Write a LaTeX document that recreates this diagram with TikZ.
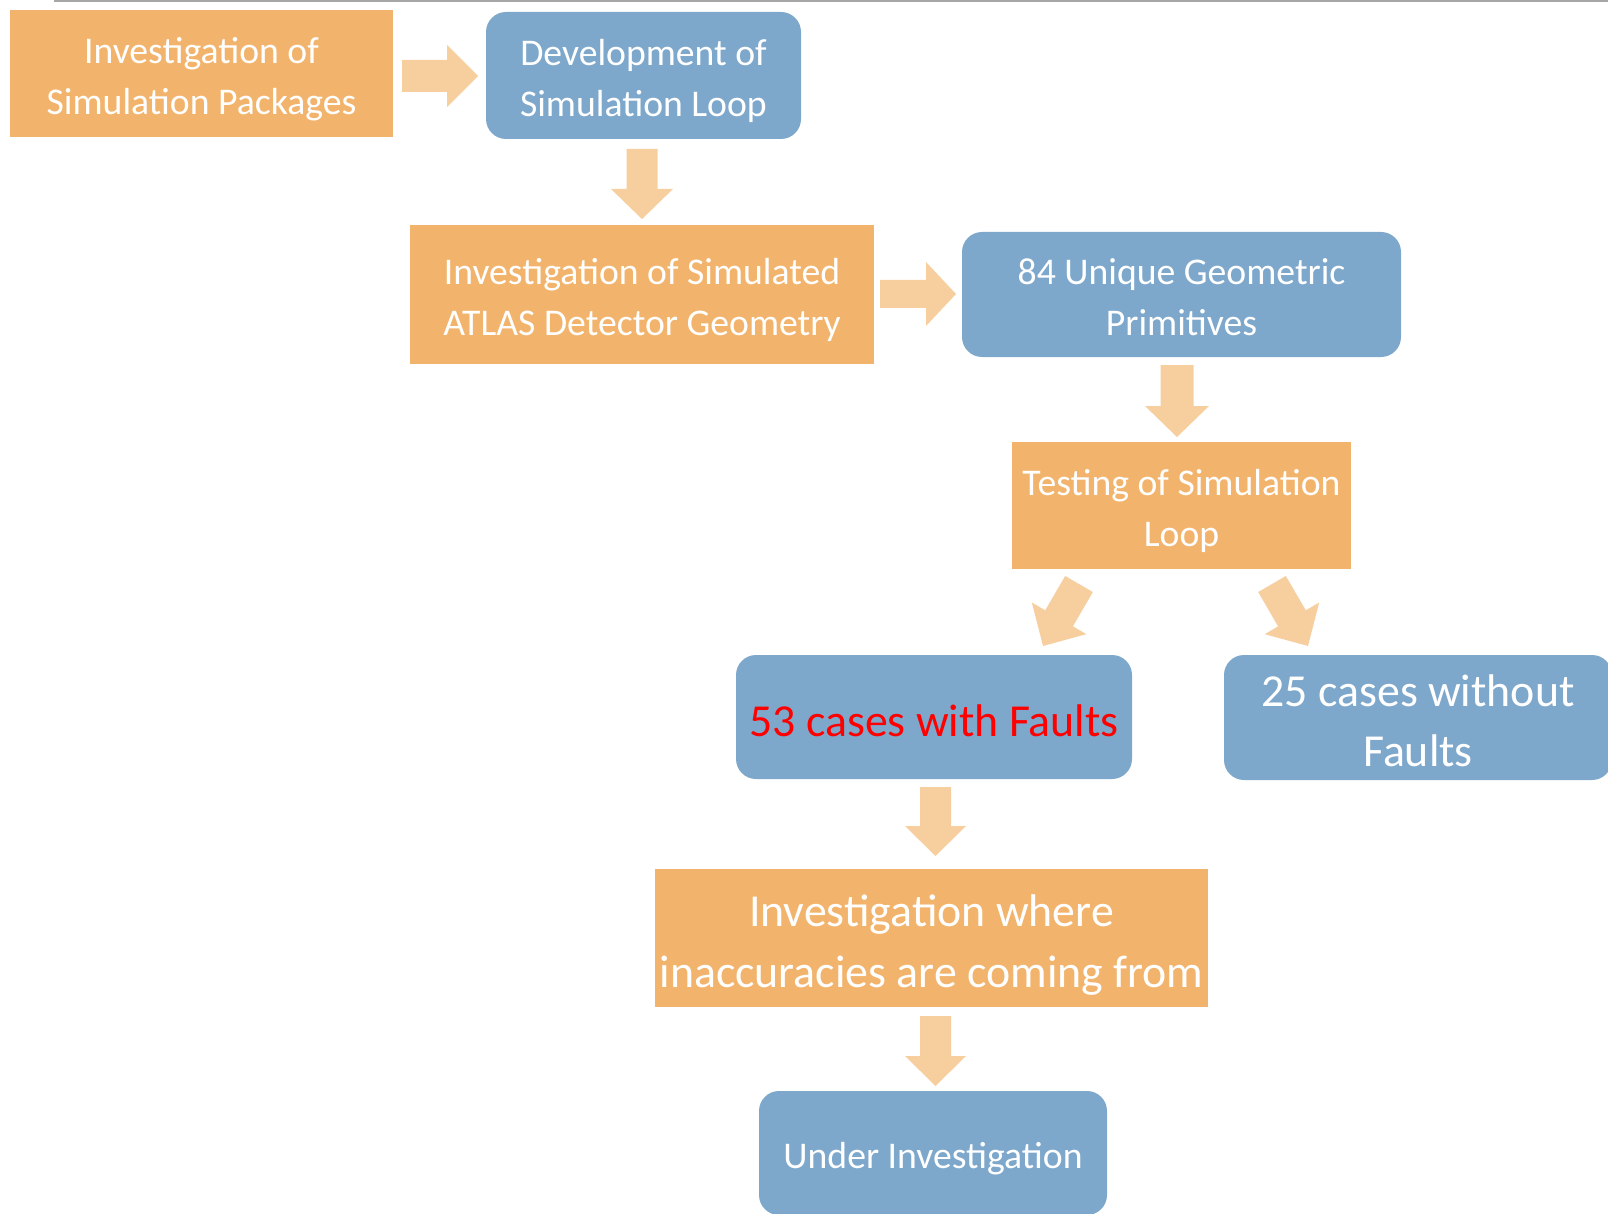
\documentclass[tikz,border=0pt]{standalone}
\usepackage{fontspec}
\setmainfont{Carlito}
\usetikzlibrary{calc}
\definecolor{boxorange}{HTML}{F2B46C}
\definecolor{boxblue}{HTML}{7EA8CB}
\definecolor{arrowfill}{HTML}{F7CE9E}
\definecolor{toplinecol}{HTML}{A6A6A6}
% struts fixing the top of the first line and the bottom of the last line
\newcommand{\firstln}{\rule{0pt}{1.09em}}
\newcommand{\lastln}{\rule[-0.25em]{0pt}{0pt}}
% #1 tail, #2 tip, #3 shaft half width, #4 head half width, #5 head length
\newcommand{\blockarrow}[5]{%
  \coordinate (neck) at ($(#2)!#5pt!(#1)$);
  \fill[arrowfill] ($(#1)!#3pt!90:(#2)$) -- ($(neck)!#3pt!90:(#2)$) -- ($(neck)!#4pt!90:(#2)$) -- (#2)
    -- ($(neck)!#4pt!-90:(#2)$) -- ($(neck)!#3pt!-90:(#2)$) -- ($(#1)!#3pt!-90:(#2)$) -- cycle;
}
\begin{document}
\begin{tikzpicture}[x=1pt,y=-1pt,
  orangebox/.style={fill=boxorange, draw=none, text=white, align=center, inner sep=0pt},
  bluebox/.style={fill=boxblue, draw=none, text=white, align=center, inner sep=0pt, rounded corners=20pt},
  smalltext/.style={font=\fontsize{37.7}{51}\selectfont},
  bigtext/.style={font=\fontsize{45.8}{60.5}\selectfont}]
\useasboundingbox (0,0) rectangle (1608,1214);
\clip (0,0) rectangle (1608,1214);

\coordinate (tl1) at (54,1);
\coordinate (tl2) at (1608,1);
\draw[toplinecol, line width=2pt] (tl1) -- (tl2);

\node[orangebox, smalltext, minimum width=383pt, minimum height=127pt] (n1) at (201.5,73.5) {\firstln Investigation of\\Simulation Packages\lastln};
\node[bluebox, smalltext, minimum width=315pt, minimum height=127pt] (n2) at (643.5,75.5) {\firstln Development of\\Simulation Loop\lastln};
\node[orangebox, smalltext, minimum width=464pt, minimum height=139pt] (n3) at (642,294.5) {\firstln Investigation of Simulated\\ATLAS Detector Geometry\lastln};
\node[bluebox, smalltext, minimum width=439pt, minimum height=125pt] (n4) at (1181.5,294.5) {\firstln 84 Unique Geometric\\Primitives\lastln};
\node[orangebox, smalltext, minimum width=339pt, minimum height=127pt] (n5) at (1181.5,505.5) {\firstln Testing of Simulation\\Loop\lastln};
\node[bluebox, bigtext, text=red, minimum width=396pt, minimum height=124pt] (n6) at (934,717) {\firstln 53 cases with Faults\lastln};
\node[bluebox, bigtext, minimum width=388pt, minimum height=125pt] (n7) at (1418,717.5) {\firstln 25 cases without\\Faults\lastln};
\node[orangebox, bigtext, minimum width=553pt, minimum height=138pt] (n8) at (931.5,938) {\firstln Investigation where\\inaccuracies are coming from\lastln};
\node[bluebox, smalltext, minimum width=348pt, minimum height=124pt] (n9) at (933,1153) {\firstln Under Investigation\lastln};

\coordinate (a1s) at (402,76);   \coordinate (a1e) at (478,76);
\coordinate (a2s) at (642,149);  \coordinate (a2e) at (642,219);
\coordinate (a3s) at (880,294);  \coordinate (a3e) at (956,294);
\coordinate (a4s) at (1177,365); \coordinate (a4e) at (1177,437);
\coordinate (a5s) at (1079,584); \coordinate (a5e) at (1043,646);
\coordinate (a6s) at (1272,584); \coordinate (a6e) at (1308,646);
\coordinate (a7s) at (935.5,787);  \coordinate (a7e) at (935.5,856);
\coordinate (a8s) at (935.5,1016); \coordinate (a8e) at (935.5,1086);

\blockarrow{a1s}{a1e}{16}{31}{31}
\blockarrow{a2s}{a2e}{15.5}{31}{30}
\blockarrow{a3s}{a3e}{14}{32}{30}
\blockarrow{a4s}{a4e}{16.5}{32}{31}
\blockarrow{a5s}{a5e}{16}{31.5}{32}
\blockarrow{a6s}{a6e}{16}{31.5}{32}
\blockarrow{a7s}{a7e}{15.5}{30.5}{30}
\blockarrow{a8s}{a8e}{15.5}{30.5}{30}
\end{tikzpicture}
\end{document}
